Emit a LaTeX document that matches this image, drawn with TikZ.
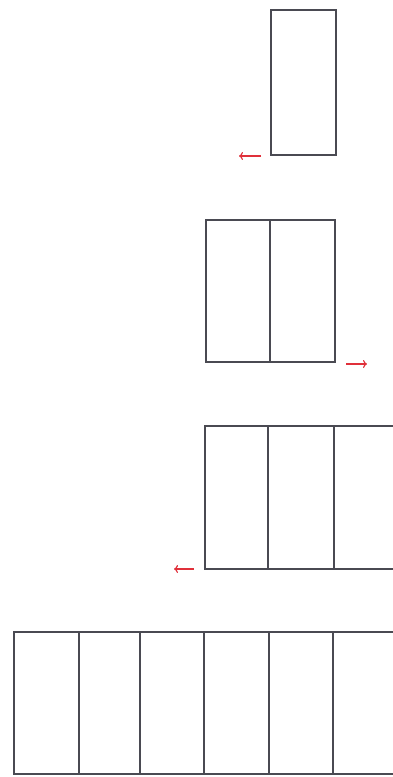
\documentclass[tikz,border=0pt]{standalone}
\usetikzlibrary{arrows.meta}
\definecolor{boxline}{HTML}{4A4A52}
\definecolor{arrred}{HTML}{E0303A}
\tikzset{
  cell/.style={draw=boxline, line width=1.2pt},
  mover/.style={draw=arrred, line width=1.2pt, -{To[length=4pt,width=8pt]}}
}
\begin{document}
\begin{tikzpicture}[x=1pt,y=-1pt]
\useasboundingbox (0,0) rectangle (393,777);
% row 1
\draw[cell] (271,10) rectangle (336,155);
\draw[mover] (261,156) -- (239,156);
% row 2
\draw[cell] (206,220) rectangle (335,362);
\draw[cell] (270,220) -- (270,362);
\draw[mover] (346,364) -- (367,364);
% row 3
\draw[cell] (393,426) -- (205,426) -- (205,569) -- (393,569);
\draw[cell] (268,426) -- (268,569);
\draw[cell] (334,426) -- (334,569);
\draw[mover] (194,569) -- (174,569);
% row 4
\draw[cell] (393,632) -- (14,632) -- (14,774) -- (393,774);
\foreach \xx in {79,140,204,269,333}
  \draw[cell] (\xx,632) -- (\xx,774);
\end{tikzpicture}
\end{document}
